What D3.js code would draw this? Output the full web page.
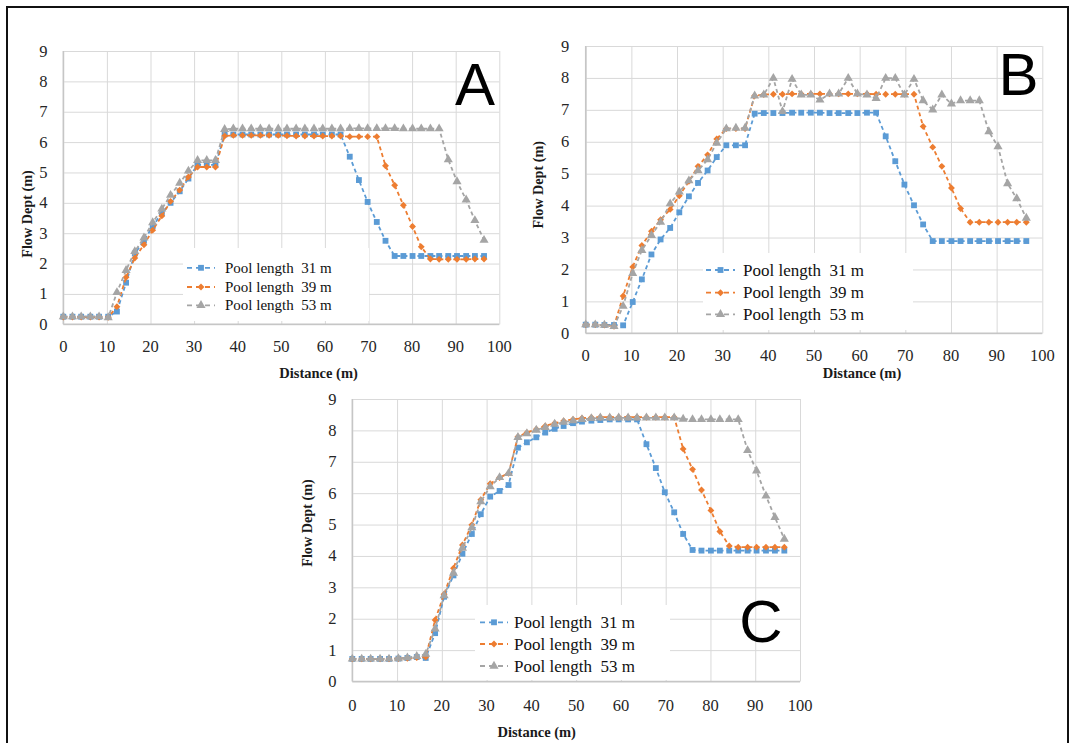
<!DOCTYPE html>
<html>
<head>
<meta charset="utf-8">
<script src="https://cdn.jsdelivr.net/npm/d3@7"></script>
<style>
  html, body { margin: 0; padding: 0; background: #fff; }
  svg { display: block; }
  svg text { font-family: 'Liberation Serif', 'DejaVu Serif', serif; }
  svg text.letter { font-family: 'Liberation Sans', 'DejaVu Sans', sans-serif; }
</style>
</head>
<body>
<div id="chart"></div>
<script>
// distance along the channel (m), same stations for every run
const distance = [0, 2.1, 4.1, 6.2, 8.2, 10.3, 12.3, 14.4, 16.4, 18.5, 20.5, 22.6, 24.6, 26.7, 28.7,
  30.8, 32.9, 34.9, 37.0, 39.0, 41.1, 43.1, 45.2, 47.2, 49.3, 51.3, 53.4, 55.4, 57.5, 59.5, 61.6,
  63.6, 65.7, 67.8, 69.8, 71.9, 73.9, 76.0, 78.0, 80.1, 82.1, 84.2, 86.2, 88.3, 90.3, 92.4, 94.4, 96.5];

const seriesNames = ['Pool length  31 m', 'Pool length  39 m', 'Pool length  53 m'];
const xTicks = [0, 10, 20, 30, 40, 50, 60, 70, 80, 90, 100];
const yTicks = [0, 1, 2, 3, 4, 5, 6, 7, 8, 9];

// panel A
const depthA31 = [0.25, 0.25, 0.25, 0.25, 0.25, 0.25, 0.42, 1.37, 2.33, 2.75, 3.23, 3.66, 4.0, 4.38, 4.8,
  5.25, 5.25, 5.25, 6.25, 6.25, 6.25, 6.25, 6.25, 6.25, 6.25, 6.25, 6.25, 6.25, 6.25, 6.25, 6.25,
  6.25, 5.52, 4.75, 4.03, 3.37, 2.75, 2.25, 2.25, 2.25, 2.25, 2.25, 2.25, 2.25, 2.25, 2.25, 2.25, 2.25];
const depthA39 = [0.24, 0.24, 0.24, 0.24, 0.24, 0.23, 0.58, 1.55, 2.18, 2.62, 3.1, 3.57, 4.05, 4.42, 4.85,
  5.18, 5.18, 5.18, 6.2, 6.22, 6.22, 6.22, 6.22, 6.22, 6.22, 6.21, 6.2, 6.2, 6.2, 6.2, 6.2,
  6.2, 6.18, 6.18, 6.18, 6.18, 5.22, 4.58, 3.92, 3.22, 2.55, 2.15, 2.14, 2.14, 2.14, 2.14, 2.15, 2.15];
const depthA53 = [0.25, 0.25, 0.25, 0.25, 0.25, 0.22, 1.05, 1.78, 2.4, 2.85, 3.35, 3.8, 4.25, 4.65, 5.05,
  5.4, 5.4, 5.4, 6.42, 6.44, 6.44, 6.44, 6.44, 6.44, 6.44, 6.44, 6.44, 6.44, 6.44, 6.44, 6.44,
  6.44, 6.45, 6.45, 6.45, 6.45, 6.45, 6.45, 6.44, 6.44, 6.44, 6.44, 6.44, 5.42, 4.7, 4.1, 3.42, 2.77];

// panel B
const depthB31 = [0.27, 0.27, 0.26, 0.26, 0.25, 0.98, 1.69, 2.47, 2.94, 3.3, 3.79, 4.29, 4.71, 5.1, 5.52,
  5.89, 5.89, 5.89, 6.88, 6.9, 6.9, 6.9, 6.91, 6.91, 6.91, 6.91, 6.9, 6.9, 6.9, 6.9, 6.91,
  6.91, 6.17, 5.39, 4.66, 4.01, 3.41, 2.89, 2.89, 2.89, 2.89, 2.89, 2.89, 2.89, 2.89, 2.89, 2.89, 2.89];
const depthB39 = [0.27, 0.27, 0.26, 0.22, 1.17, 2.08, 2.75, 3.2, 3.56, 3.88, 4.31, 4.76, 5.23, 5.59, 6.09,
  6.41, 6.41, 6.41, 7.44, 7.48, 7.49, 7.49, 7.5, 7.5, 7.5, 7.5, 7.5, 7.5, 7.5, 7.5, 7.5,
  7.49, 7.49, 7.49, 7.49, 7.49, 6.48, 5.83, 5.23, 4.55, 3.91, 3.48, 3.48, 3.48, 3.48, 3.48, 3.48, 3.48];
const depthB53 = [0.27, 0.27, 0.26, 0.22, 0.85, 1.88, 2.6, 3.07, 3.48, 4.06, 4.43, 4.78, 5.1, 5.44, 5.96,
  6.41, 6.43, 6.43, 7.44, 7.47, 7.99, 6.95, 7.96, 7.47, 7.47, 7.31, 7.5, 7.5, 7.99, 7.5, 7.47,
  7.36, 7.99, 7.99, 7.47, 7.96, 7.29, 7.0, 7.47, 7.19, 7.29, 7.29, 7.29, 6.32, 5.85, 4.69, 4.22, 3.61];

// panel C
const depthC31 = [0.72, 0.72, 0.72, 0.72, 0.72, 0.73, 0.75, 0.78, 0.75, 1.54, 2.7, 3.38, 4.07, 4.7, 5.33,
  5.89, 6.07, 6.26, 7.45, 7.62, 7.78, 7.93, 8.05, 8.14, 8.23, 8.28, 8.31, 8.33, 8.35, 8.35, 8.35,
  8.35, 7.56, 6.8, 6.03, 5.39, 4.7, 4.19, 4.17, 4.17, 4.17, 4.17, 4.17, 4.17, 4.17, 4.17, 4.17, 4.17];
const depthC39 = [0.72, 0.72, 0.72, 0.72, 0.72, 0.73, 0.74, 0.76, 0.78, 1.96, 2.78, 3.61, 4.35, 4.99, 5.79,
  6.3, 6.5, 6.63, 7.8, 7.93, 8.04, 8.14, 8.23, 8.3, 8.35, 8.39, 8.41, 8.42, 8.42, 8.42, 8.42,
  8.42, 8.42, 8.42, 8.42, 8.42, 7.41, 6.76, 6.1, 5.45, 4.78, 4.32, 4.28, 4.28, 4.28, 4.28, 4.28, 4.28];
const depthC53 = [0.72, 0.72, 0.72, 0.72, 0.72, 0.73, 0.76, 0.8, 0.87, 1.68, 2.74, 3.45, 4.25, 4.9, 5.73,
  6.21, 6.5, 6.63, 7.78, 7.9, 8.01, 8.1, 8.2, 8.26, 8.31, 8.35, 8.38, 8.4, 8.4, 8.4, 8.4,
  8.4, 8.4, 8.4, 8.4, 8.4, 8.36, 8.35, 8.35, 8.35, 8.35, 8.35, 8.35, 7.36, 6.71, 5.91, 5.23, 4.54];

const colors = ['#5b9bd5', '#ed7d31', '#a5a5a5'];
const symbols = [
  d3.symbol().type(d3.symbolSquare).size(34),
  d3.symbol().type(d3.symbolDiamond2).size(30),
  d3.symbol().type(d3.symbolTriangle).size(36)
];

const W = 1073, H = 743;

const svg = d3.select('#chart').append('svg')
  .attr('width', W)
  .attr('height', H);

svg.append('rect').attr('width', W).attr('height', H).attr('fill', '#fff');

// frame round the figure
svg.append('path')
  .attr('d', `M7,${H + 5} V7 H1068 V${H + 5}`)
  .attr('fill', 'none')
  .attr('stroke', '#111')
  .attr('stroke-width', 2);

const panels = [
  { series: [depthA31, depthA39, depthA53], letter: 'A',
    left: 63.3, right: 499.3, top: 51, bottom: 324.3,
    letterX: 475, letterY: 105, yLabelX: 43.3, xLabelY: 346,
    xTitle: [318.6, 372.5], yTitle: [26.5, 214],
    legend: { x: 183, y: 248, w: 186, h: 73, l0: 187, l1: 215, tx: 225, rows: [267.8, 287, 305.3], font: 15 } },
  { series: [depthB31, depthB39, depthB53], letter: 'B',
    left: 585.7, right: 1042.3, top: 46, bottom: 333.3,
    letterX: 1018.5, letterY: 95, yLabelX: 565, xLabelY: 355.7,
    xTitle: [862, 373], yTitle: [538, 184.7],
    legend: { x: 703, y: 253, w: 210, h: 77, l0: 706, l1: 735, tx: 743, rows: [270, 292.7, 314.3], font: 17 } },
  { series: [depthC31, depthC39, depthC53], letter: 'C',
    left: 352.3, right: 800, top: 399, bottom: 681.5,
    letterX: 761, letterY: 642, yLabelX: 332.3, xLabelY: 705,
    xTitle: [536.7, 731.7], yTitle: [306.7, 523],
    legend: { x: 475, y: 605, w: 195, h: 75, l0: 480, l1: 508, tx: 514, rows: [622.3, 644, 666], font: 17 } }
];

panels.forEach(p => drawPanel(p));

function drawPanel(p) {
  const x = d3.scaleLinear().domain([0, 100]).range([p.left, p.right]);
  const y = d3.scaleLinear().domain([0, 9]).range([p.bottom, p.top]);
  const g = svg.append('g');

  // gridlines
  g.append('g')
    .attr('transform', `translate(0,${p.bottom})`)
    .call(d3.axisBottom(x).tickValues(xTicks).tickSize(-(p.bottom - p.top)).tickFormat(''))
    .call(s => s.select('.domain').remove())
    .call(s => s.selectAll('line').attr('stroke', '#d9d9d9').attr('stroke-width', 1));
  g.append('g')
    .attr('transform', `translate(${p.left},0)`)
    .call(d3.axisLeft(y).tickValues(yTicks).tickSize(-(p.right - p.left)).tickFormat(''))
    .call(s => s.select('.domain').remove())
    .call(s => s.selectAll('line').attr('stroke', '#d9d9d9').attr('stroke-width', 1));

  // axis lines
  g.append('line')
    .attr('x1', p.left).attr('x2', p.right).attr('y1', p.bottom).attr('y2', p.bottom)
    .attr('stroke', '#c6c6c6').attr('stroke-width', 1.5);
  g.append('line')
    .attr('x1', p.left).attr('x2', p.left).attr('y1', p.top).attr('y2', p.bottom)
    .attr('stroke', '#c6c6c6').attr('stroke-width', 1.5);

  // tick labels
  g.selectAll('.xl').data(xTicks).join('text')
    .attr('x', d => x(d)).attr('y', p.xLabelY)
    .attr('text-anchor', 'middle').attr('dominant-baseline', 'central')
    .attr('font-size', 16.5).attr('fill', '#262626')
    .text(d => d);
  g.selectAll('.yl').data(yTicks).join('text')
    .attr('x', p.yLabelX).attr('y', d => y(d))
    .attr('text-anchor', 'middle').attr('dominant-baseline', 'central')
    .attr('font-size', 16.5).attr('fill', '#262626')
    .text(d => d);

  // axis titles
  g.append('text')
    .attr('x', p.xTitle[0]).attr('y', p.xTitle[1])
    .attr('text-anchor', 'middle').attr('dominant-baseline', 'central')
    .attr('font-size', 14.5).attr('font-weight', 'bold').attr('fill', '#1a1a1a')
    .text('Distance (m)');
  g.append('text')
    .attr('transform', `translate(${p.yTitle[0]},${p.yTitle[1]}) rotate(-90)`)
    .attr('text-anchor', 'middle').attr('dominant-baseline', 'central')
    .attr('font-size', 14.2).attr('font-weight', 'bold').attr('fill', '#1a1a1a')
    .text('Flow Dept (m)');

  // series
  const line = d3.line().x((d, i) => x(distance[i])).y(d => y(d));
  p.series.forEach((vals, k) => {
    g.append('path')
      .datum(vals)
      .attr('d', line)
      .attr('fill', 'none')
      .attr('stroke', colors[k])
      .attr('stroke-width', 1.8)
      .attr('stroke-dasharray', '4,3');
    g.selectAll(null).data(vals).join('path')
      .attr('transform', (d, i) => `translate(${x(distance[i])},${y(d)})`)
      .attr('d', symbols[k]())
      .attr('fill', colors[k]);
  });

  // legend
  const L = p.legend;
  g.append('rect')
    .attr('x', L.x).attr('y', L.y).attr('width', L.w).attr('height', L.h)
    .attr('fill', '#fff');
  seriesNames.forEach((name, k) => {
    const ry = L.rows[k];
    g.append('line')
      .attr('x1', L.l0).attr('x2', L.l1).attr('y1', ry).attr('y2', ry)
      .attr('stroke', colors[k]).attr('stroke-width', 1.8).attr('stroke-dasharray', '5,4');
    g.append('path')
      .attr('transform', `translate(${(L.l0 + L.l1) / 2},${ry})`)
      .attr('d', symbols[k]())
      .attr('fill', colors[k]);
    g.append('text')
      .attr('x', L.tx).attr('y', ry)
      .attr('dominant-baseline', 'central')
      .attr('font-size', L.font).attr('fill', '#111')
      .style('white-space', 'pre')
      .text(name);
  });

  // panel letter
  g.append('text')
    .attr('class', 'letter')
    .attr('x', p.letterX).attr('y', p.letterY)
    .attr('text-anchor', 'middle')
    .attr('font-size', 60).attr('fill', '#000')
    .text(p.letter);
}
</script>
</body>
</html>
